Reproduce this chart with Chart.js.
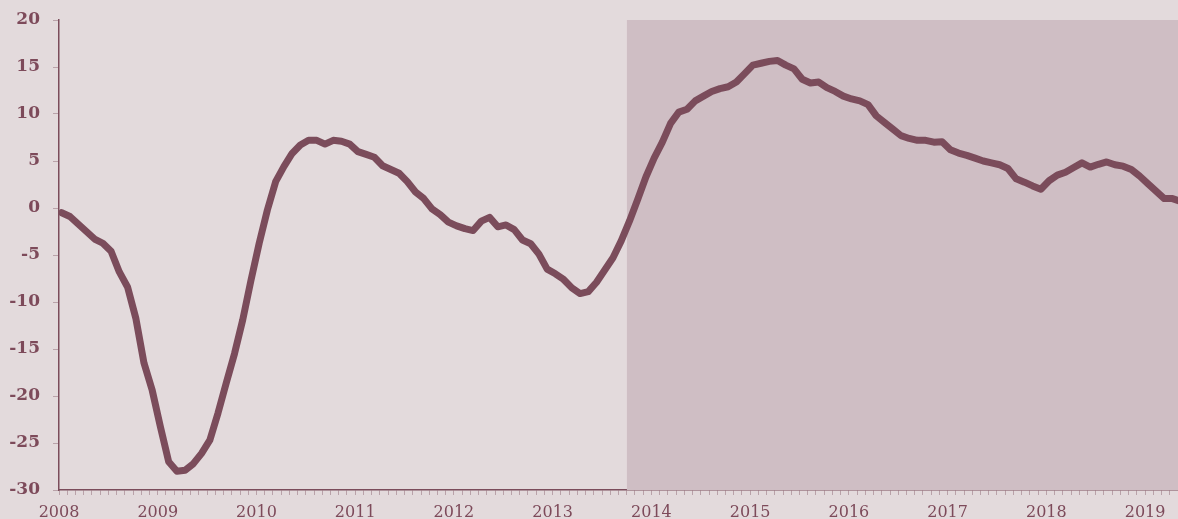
<!DOCTYPE html>
<html>
<head>
<meta charset="utf-8">
<script src="https://cdn.jsdelivr.net/npm/chart.js@4/dist/chart.umd.min.js"></script>
<style>
  body { margin: 0; background: #e3dadc; }
  #box { width: 1178px; height: 519px; }
</style>
</head>
<body>
<div id="box"><canvas id="grafico"></canvas></div>
<script>
// valori mensili da gen 2008 a mag 2019
const valori = [
  -0.5, -0.9, -1.7, -2.5, -3.3, -3.75, -4.6, -6.8, -8.4, -11.7, -16.5, -19.4,
  -23.3, -27.0, -28.0, -27.9, -27.2, -26.1, -24.7, -21.8, -18.6, -15.5, -11.9, -7.7,
  -3.75, -0.2, 2.8, 4.4, 5.8, 6.7, 7.2, 7.2, 6.8, 7.2, 7.1, 6.8,
  6.0, 5.7, 5.4, 4.5, 4.1, 3.7, 2.8, 1.7, 1.0, -0.1, -0.7, -1.5,
  -1.9, -2.2, -2.4, -1.4, -1.0, -2.0, -1.8, -2.3, -3.4, -3.8, -4.9, -6.5,
  -7.0, -7.6, -8.5, -9.1, -8.9, -7.9, -6.6, -5.3, -3.5, -1.4, 0.9, 3.3,
  5.3, 7.0, 9.0, 10.2, 10.5, 11.4, 11.9, 12.4, 12.7, 12.9, 13.4, 14.3,
  15.2, 15.4, 15.6, 15.7, 15.2, 14.8, 13.7, 13.3, 13.4, 12.8, 12.4, 11.9,
  11.6, 11.4, 11.0, 9.8, 9.1, 8.4, 7.7, 7.4, 7.2, 7.2, 7.0, 7.05,
  6.2, 5.85, 5.6, 5.3, 5.0, 4.8, 4.6, 4.2, 3.1, 2.75, 2.35, 2.0,
  2.9, 3.5, 3.8, 4.3, 4.8, 4.35, 4.65, 4.9, 4.6, 4.45, 4.1, 3.4,
  2.6, 1.8, 1.0, 1.0, 0.7
];
const anni = ["2008", "2009", "2010", "2011", "2012", "2013", "2014", "2015", "2016", "2017", "2018", "2019"];
const yTicks = [-30, -25, -20, -15, -10, -5, 0, 5, 10, 15, 20];
const meseInizioOmbra = 69; // ott 2013
const meseUltimo = 136;

const colLinea = "#7b4c5b";
const colTesto = "#7d4a5a";
const colTick = "#b9a2a9";

// i punti stanno circa a un terzo di mese dopo la tacca
const punti = valori.map((v, i) => ({ x: i + 0.33, y: v }));
const ombra = [
  { x: meseInizioOmbra, y: yTicks[yTicks.length - 1] },
  { x: meseUltimo + 1, y: yTicks[yTicks.length - 1] }
];

new Chart(document.getElementById("grafico"), {
  type: "line",
  data: {
    datasets: [
      {
        data: punti,
        borderColor: colLinea,
        borderWidth: 7,
        borderCapStyle: "round",
        borderJoinStyle: "round",
        pointRadius: 0,
        tension: 0,
        order: 1
      },
      {
        data: ombra,
        borderWidth: 0,
        pointRadius: 0,
        backgroundColor: "#cfbec4",
        fill: "start",
        order: 2
      }
    ]
  },
  options: {
    responsive: true,
    maintainAspectRatio: false,
    animation: false,
    layout: { padding: { top: 20, right: 0, left: 0, bottom: 0 } },
    plugins: { legend: { display: false }, tooltip: { enabled: false } },
    scales: {
      x: {
        type: "linear",
        min: 0,
        max: meseUltimo,
        afterFit: s => { s.height = 29; s.paddingLeft = 0; s.paddingRight = 0; },
        border: { display: true, color: colLinea, width: 1.5 },
        grid: { drawOnChartArea: false, drawTicks: true, tickLength: 5, color: colTick },
        ticks: {
          stepSize: 1,
          autoSkip: false,
          maxRotation: 0,
          includeBounds: false,
          padding: 8,
          color: colTesto,
          font: { family: "DejaVu Serif", size: 16 },
          callback: v => (v % 12 === 0 ? anni[v / 12] : "")
        }
      },
      y: {
        min: yTicks[0],
        max: yTicks[yTicks.length - 1],
        afterFit: s => { s.width = 59; s.paddingTop = 0; s.paddingBottom = 0; },
        afterBuildTicks: s => { s.ticks = yTicks.map(v => ({ value: v })); },
        border: { display: true, color: colLinea, width: 1.5 },
        grid: { drawOnChartArea: false, drawTicks: true, tickLength: 6, color: colTick },
        ticks: {
          padding: 13,
          color: colTesto,
          font: { family: "DejaVu Serif", size: 17, weight: "bold" }
        }
      }
    }
  }
});
</script>
</body>
</html>
